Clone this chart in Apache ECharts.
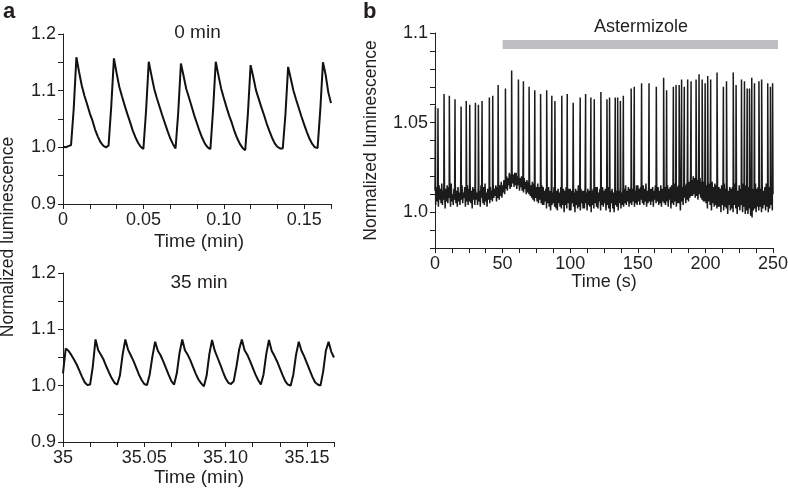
<!DOCTYPE html>
<html><head><meta charset="utf-8">
<script src="https://cdn.jsdelivr.net/npm/echarts/dist/echarts.min.js"></script>
<style>html,body{margin:0;padding:0;background:#fff}#c{width:788px;height:495px}</style>
</head><body><div id="c"></div>
<script>
const FONT = "'Liberation Sans', Arial, Helvetica, sans-serif";
const INK = '#231f20';

// ---------- Panel a ----------
const aSampleStep = 0.1; // seconds between samples (x axis shown in minutes)
const aValues0min = [
  1.001,1.000,1.002,1.004,1.068,1.159,1.133,1.109,1.091,1.076,
  1.060,1.047,1.031,1.019,1.009,1.003,1.000,1.003,1.072,1.157,
  1.131,1.107,1.090,1.074,1.059,1.045,1.030,1.018,1.008,1.001,
  0.997,1.065,1.151,1.127,1.104,1.087,1.072,1.057,1.043,1.029,
  1.016,1.006,0.998,1.062,1.148,1.126,1.103,1.088,1.072,1.056,
  1.042,1.028,1.016,1.006,1.000,0.997,1.066,1.151,1.127,1.104,
  1.087,1.071,1.056,1.043,1.028,1.016,1.006,0.999,0.995,1.060,
  1.145,1.124,1.101,1.086,1.071,1.057,1.042,1.029,1.017,1.007,
  1.001,0.998,0.998,1.058,1.142,1.121,1.100,1.084,1.069,1.054,
  1.040,1.027,1.015,1.006,1.000,0.999,1.066,1.150,1.128,1.097,
  1.078
];
const aValues35min = [
  1.022,1.066,1.062,1.055,1.047,1.038,1.027,1.016,1.006,1.001,
  1.002,1.034,1.082,1.063,1.055,1.046,1.034,1.023,1.013,1.005,
  1.002,1.018,1.055,1.082,1.064,1.054,1.044,1.032,1.020,1.010,
  1.003,1.001,1.020,1.052,1.078,1.062,1.054,1.043,1.031,1.019,
  1.008,1.002,1.022,1.058,1.082,1.063,1.055,1.045,1.033,1.021,
  1.011,1.004,0.999,1.018,1.056,1.081,1.062,1.050,1.038,1.025,
  1.013,1.005,1.003,1.008,1.034,1.064,1.082,1.063,1.055,1.044,
  1.032,1.020,1.010,1.002,1.020,1.056,1.081,1.062,1.053,1.043,
  1.031,1.019,1.008,1.002,1.000,1.020,1.055,1.078,1.062,1.052,
  1.040,1.028,1.016,1.006,1.002,1.000,1.025,1.062,1.078,1.060,
  1.050
];
const aXTickLabels0 = ['0','0.05','0.10','0.15'];      // every 3 s
const aXTickLabels35 = ['35','35.05','35.10','35.15'];
const aYTickValues = [0.9, 1.0, 1.1, 1.2];
const aYTickLabels = ['0.9','1.0','1.1','1.2'];

// ---------- Panel b ----------
const bSampleStep = 0.5; // seconds between baseline samples
const bBaseline = [
  1.012,1.004,1.014,1.006,1.011,1.003,1.015,1.007,1.013,1.005,1.016,1.004,1.012,1.007,1.014,1.002,1.013,1.006,1.015,1.005,
  1.014,1.008,1.012,1.003,1.016,1.006,1.010,1.004,1.013,1.007,1.015,1.005,1.012,1.003,1.014,1.006,1.011,1.004,1.016,1.007,
  1.015,1.005,1.011,1.008,1.014,1.003,1.012,1.006,1.015,1.004,1.013,1.006,1.016,1.005,1.012,1.002,1.014,1.007,1.013,1.004,
  1.013,1.007,1.011,1.004,1.014,1.006,1.012,1.003,1.015,1.008,1.012,1.005,1.014,1.004,1.016,1.006,1.011,1.003,1.013,1.007,
  1.013,1.005,1.014,1.007,1.012,1.006,1.016,1.008,1.013,1.009,1.015,1.006,1.014,1.008,1.016,1.007,1.015,1.009,1.017,1.008,
  1.015,1.011,1.018,1.010,1.017,1.013,1.020,1.012,1.019,1.015,1.022,1.013,1.021,1.014,1.023,1.016,1.021,1.014,1.022,1.015,
  1.022,1.013,1.020,1.015,1.021,1.012,1.019,1.014,1.020,1.012,1.018,1.011,1.019,1.013,1.017,1.010,1.018,1.011,1.017,1.010,
  1.016,1.009,1.015,1.008,1.017,1.007,1.016,1.006,1.015,1.008,1.014,1.006,1.016,1.005,1.014,1.007,1.013,1.005,1.015,1.004,
  1.014,1.004,1.012,1.006,1.013,1.002,1.011,1.005,1.014,1.003,1.012,1.001,1.013,1.004,1.011,1.005,1.014,1.003,1.012,1.002,
  1.012,1.001,1.013,1.005,1.011,1.003,1.014,1.002,1.010,1.004,1.013,1.000,1.012,1.004,1.014,1.002,1.011,1.005,1.013,1.001,
  1.013,1.001,1.012,1.005,1.014,1.003,1.011,1.000,1.013,1.004,1.012,1.002,1.015,1.003,1.011,1.001,1.013,1.005,1.012,1.002,
  1.012,1.002,1.014,1.005,1.011,1.001,1.013,1.004,1.012,1.003,1.014,1.000,1.012,1.004,1.013,1.002,1.011,1.005,1.014,1.003,
  1.014,1.002,1.011,1.006,1.013,1.001,1.012,1.004,1.014,1.003,1.012,1.005,1.013,1.001,1.011,1.004,1.014,1.002,1.012,1.000,
  1.012,1.005,1.013,1.002,1.011,1.000,1.014,1.004,1.012,1.003,1.013,1.001,1.012,1.005,1.014,1.002,1.011,1.004,1.013,1.003,
  1.013,1.005,1.015,1.004,1.012,1.006,1.014,1.003,1.013,1.005,1.015,1.004,1.013,1.006,1.014,1.003,1.012,1.005,1.015,1.004,
  1.015,1.006,1.013,1.004,1.014,1.007,1.012,1.005,1.015,1.004,1.013,1.006,1.016,1.003,1.012,1.005,1.014,1.006,1.013,1.004,
  1.013,1.006,1.014,1.003,1.012,1.007,1.015,1.005,1.013,1.006,1.014,1.004,1.012,1.005,1.015,1.003,1.013,1.006,1.014,1.005,
  1.014,1.004,1.012,1.006,1.015,1.003,1.013,1.007,1.014,1.002,1.015,1.005,1.013,1.004,1.016,1.006,1.012,1.003,1.014,1.005,
  1.015,1.005,1.013,1.001,1.016,1.006,1.014,1.004,1.017,1.008,1.015,1.005,1.016,1.007,1.018,1.006,1.017,1.008,1.019,1.009,
  1.018,1.009,1.020,1.010,1.019,1.008,1.021,1.009,1.018,1.007,1.020,1.010,1.019,1.008,1.017,1.007,1.018,1.006,1.017,1.006,
  1.016,1.005,1.015,1.002,1.014,1.006,1.016,1.004,1.015,1.001,1.017,1.005,1.014,1.003,1.016,1.004,1.015,1.002,1.014,1.003,
  1.014,1.003,1.013,1.000,1.015,1.004,1.012,1.001,1.016,1.003,1.013,1.002,1.015,0.999,1.012,1.004,1.014,1.001,1.013,1.002,
  1.014,1.000,1.013,1.004,1.016,1.002,1.014,0.999,1.012,1.003,1.015,1.001,1.013,1.004,1.014,1.000,1.016,1.003,1.012,0.999,
  1.015,1.001,1.013,0.999,1.014,1.002,1.012,0.998,1.015,0.997,1.013,1.001,1.012,1.002,1.016,1.000,1.013,1.003,1.014,1.001,
  1.014,1.003,1.013,1.000,1.015,1.002,1.012,1.004,1.014,1.001,1.016,1.003,1.013,1.000,1.014,1.002,1.012,1.004,1.015,1.001,
  1.010
];
const bSpikeTimes = [
  0.3,2.2,6.7,10.6,14.8,19.3,23.1,25.7,29.9,32.1,34.8,40.2,42.7,46.7,52.1,56.7,
  61.7,65.4,69.6,73.8,78.1,82.6,86.4,88.7,93.8,97.8,102.2,107.4,111.4,115.3,117.8,
  122.7,127.2,129.1,133.3,135.1,137.1,139.3,145.1,147.4,152.8,158.3,163.7,169.1,
  171.3,176.3,178.3,180.6,182.4,184.4,186.9,189.4,193.1,195.3,197.6,199.8,201.7,
  203.9,208.6,213.3,215.6,220.6,222.7,226.7,228.9,230.9,232.6,234.3,236.3,239.6,
  241.6,246.1,248.1,249.7
];
const bSpikeHeights = [
  1.059,1.058,1.066,1.065,1.063,1.059,1.062,1.060,1.061,1.060,1.062,1.064,1.065,1.071,1.069,1.079,
  1.074,1.073,1.070,1.068,1.066,1.068,1.065,1.062,1.065,1.066,1.061,1.064,1.066,1.064,1.063,
  1.067,1.063,1.064,1.064,1.064,1.062,1.065,1.069,1.070,1.072,1.072,1.070,1.075,
  1.068,1.070,1.071,1.071,1.074,1.070,1.074,1.073,1.074,1.077,1.074,1.072,1.076,
  1.074,1.078,1.070,1.073,1.078,1.071,1.074,1.073,1.069,1.069,1.075,1.072,1.073,
  1.074,1.072,1.070,1.072
];
const bXTickLabels = ['0','50','100','150','200','250']; // every 50 s
const bYTickValues = [1.0, 1.05, 1.1];
const bYTickLabels = ['1.0','1.05','1.1'];
const drugName = 'Astermizole';
const drugStart = 50, drugEnd = 255, drugLevel = 1.0936;

// ---------- build ----------
const aData0 = aValues0min.map((v, i) => [i * aSampleStep, v]);
const aData35 = aValues35min.map((v, i) => [i * aSampleStep, v]);
const bData = bBaseline.map((v, i) => [i * bSampleStep, v])
  .concat(bSpikeTimes.map((t, i) => [t, bSpikeHeights[i]]))
  .sort((p, q) => p[0] - q[0]);

function aXFmt(labels) {
  return v => {
    const s = Math.round(v);
    if (Math.abs(v - s) > 1e-6 || s % 3 !== 0) return '';
    return labels[s / 3] || '';
  };
}
function lookupFmt(vals, labels) {
  return v => {
    for (let i = 0; i < vals.length; i++) if (Math.abs(v - vals[i]) < 1e-6) return labels[i];
    return '';
  };
}
const axisCommon = {
  axisLine: { show: true, onZero: false, lineStyle: { color: INK, width: 1 } },
  axisTick: { show: true, inside: false, length: 5, lineStyle: { color: INK, width: 1 } },
  splitLine: { show: false },
  axisLabel: { color: INK, fontSize: 18, fontFamily: FONT, margin: 7, showMinLabel: true, showMaxLabel: true, hideOverlap: false }
};
function ax(extra, fmt) {
  const o = JSON.parse(JSON.stringify(axisCommon));
  Object.assign(o, extra);
  o.axisLabel.formatter = fmt;
  return o;
}
function txt(text, x, y, size, opts) {
  return Object.assign({
    type: 'text', x: x, y: y, silent: true,
    style: Object.assign({ text: text, fill: INK, font: size + 'px ' + FONT, align: 'center', verticalAlign: 'middle' }, (opts && opts.style) || {})
  }, (opts && opts.el) || {});
}

const chart = echarts.init(document.getElementById('c'), null, { renderer: 'canvas' });
chart.setOption({
  animation: false,
  backgroundColor: '#fff',
  grid: [
    { left: 63, top: 34, width: 268, height: 170, containLabel: false, outerBoundsMode: 'none' },
    { left: 63, top: 273, width: 271, height: 169, containLabel: false, outerBoundsMode: 'none' },
    { left: 435, top: 33, width: 338, height: 215, containLabel: false, outerBoundsMode: 'none' }
  ],
  xAxis: [
    ax({ type: 'value', gridIndex: 0, min: 0, max: 10, interval: 1 }, aXFmt(aXTickLabels0)),
    ax({ type: 'value', gridIndex: 1, min: 0, max: 10, interval: 1 }, aXFmt(aXTickLabels35)),
    ax({ type: 'value', gridIndex: 2, min: 0, max: 250, interval: 12.5 }, v => (Math.abs(v % 50) < 1e-6 ? bXTickLabels[Math.round(v / 50)] : ''))
  ],
  yAxis: [
    ax({ type: 'value', gridIndex: 0, min: 0.9, max: 1.2, interval: 0.05 }, lookupFmt(aYTickValues, aYTickLabels)),
    ax({ type: 'value', gridIndex: 1, min: 0.9, max: 1.2, interval: 0.05 }, lookupFmt(aYTickValues, aYTickLabels)),
    ax({ type: 'value', gridIndex: 2, min: 0.98, max: 1.1, interval: 0.01 }, lookupFmt(bYTickValues, bYTickLabels))
  ],
  series: [
    { type: 'line', xAxisIndex: 0, yAxisIndex: 0, data: aData0, symbol: 'none', silent: true,
      lineStyle: { color: '#111', width: 2 } },
    { type: 'line', xAxisIndex: 1, yAxisIndex: 1, data: aData35, symbol: 'none', silent: true,
      lineStyle: { color: '#111', width: 2 } },
    { type: 'line', xAxisIndex: 2, yAxisIndex: 2, data: bData, symbol: 'none', silent: true,
      lineStyle: { color: '#1b1b1b', width: 1.5 } },
    { type: 'line', xAxisIndex: 2, yAxisIndex: 2, data: [[drugStart, drugLevel], [drugEnd, drugLevel]],
      symbol: 'none', silent: true, clip: false,
      lineStyle: { color: '#bfbfc1', width: 9, cap: 'butt' } }
  ],
  graphic: [
    txt('a', 3, 12, 22, { style: { font: 'bold 22px ' + FONT, align: 'left' } }),
    txt('b', 363, 12, 22, { style: { font: 'bold 22px ' + FONT, align: 'left' } }),
    txt('0 min', 197.5, 33, 19),
    txt('35 min', 199, 282.5, 19),
    txt('Time (min)', 199, 241.5, 19),
    txt('Time (min)', 199, 477.5, 19),
    txt('Time (s)', 604, 282.5, 18),
    txt(drugName, 641, 27.5, 18),
    txt('Normalized luminescence', 8.5, 237, 17.5, { el: { rotation: Math.PI / 2 } }),
    txt('Normalized luminescence', 371, 140.5, 17.5, { el: { rotation: Math.PI / 2 } })
  ]
});
</script>
</body></html>
